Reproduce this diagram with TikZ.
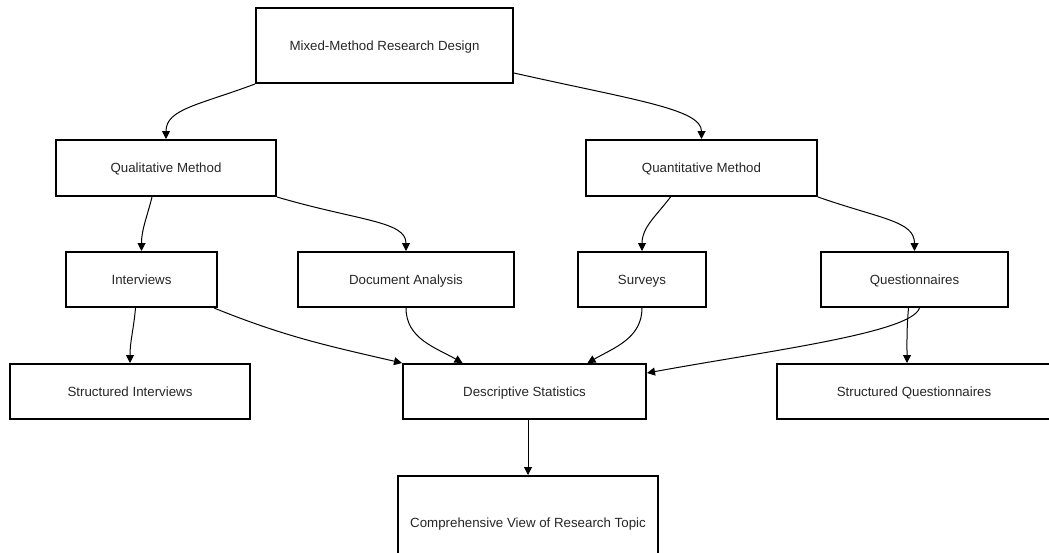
\documentclass[tikz,border=0pt]{standalone}
\usepackage{fontspec}
\setmainfont{Liberation Sans}
\usetikzlibrary{arrows.meta}

\begin{document}
\begin{tikzpicture}[x=1pt,y=-1pt,
stepbox/.style={draw,rectangle,line width=2pt,inner sep=0pt,text height=9.5pt,text depth=0pt,text=black!85,font=\fontsize{13.3}{16}\selectfont},
link/.style={line width=1pt,-{Triangle[length=8pt,width=8pt]}}]

\useasboundingbox (0,0) rectangle (1049,552);
\clip (0,0) rectangle (1049,552);

\draw (384.5,45.5) node[stepbox,minimum width=257pt,minimum height=75pt] (mixed) {Mixed-Method Research Design};
\draw (166,168) node[stepbox,minimum width=220pt,minimum height=56pt] (qual) {Qualitative Method};
\draw (701.5,168) node[stepbox,minimum width=231pt,minimum height=56pt] (quant) {Quantitative Method};
\draw (141.5,279.5) node[stepbox,minimum width=151pt,minimum height=55pt] (interv) {Interviews};
\draw (406,279.5) node[stepbox,minimum width=216pt,minimum height=55pt] (docan) {Document Analysis};
\draw (642,279.5) node[stepbox,minimum width=128pt,minimum height=55pt] (surv) {Surveys};
\draw (914.5,279.5) node[stepbox,minimum width=187pt,minimum height=55pt] (quest) {Questionnaires};
\draw (130,391.5) node[stepbox,minimum width=240pt,minimum height=55pt] (strint) {Structured Interviews};
\draw (524.5,391.5) node[stepbox,minimum width=243pt,minimum height=55pt] (descr) {Descriptive Statistics};
\draw (914,391.5) node[stepbox,minimum width=274pt,minimum height=55pt] (strq) {Structured Questionnaires};
\draw (528,523) node[stepbox,minimum width=260pt,minimum height=94pt] (comp) {Comprehensive View of Research Topic};

\draw[link] (mixed.south west) .. controls +(-56,21) and +(0,-30) .. (qual.north);
\draw[link] (mixed.-12) .. controls +(120,27) and +(0,-30) .. (quant.north);
\draw[link] ([xshift=-14pt]qual.south) to[out=256,in=90] (interv.north);
\draw[link] (qual.south east) .. controls +(82,24) and +(0,-30) .. (docan.north);
\draw[link] ([xshift=-31pt]quant.south) to[out=233,in=90] (surv.north);
\draw[link] (quant.south east) .. controls +(63,22) and +(0,-30) .. (quest.north);
\draw[link] ([xshift=-6pt]interv.south) to[out=265,in=90] (strint.north);
\draw[link] ([xshift=-4pt]interv.south east) to[out=-22,in=167] (descr.north west);
\draw[link] (docan.south) to[out=-90,in=150] ([xshift=-62pt]descr.north);
\draw[link] (surv.south) to[out=-90,in=30] ([xshift=63pt]descr.north);
\draw[link] ([xshift=5pt]quest.south) .. controls +(-8,25) and +(120,-22) .. ([yshift=-10pt]descr.north east);
\draw[link] ([xshift=-6pt]quest.south) to[out=265,in=90] ([xshift=-7pt]strq.north);
\draw[link] (comp.north |- descr.south) -- (comp.north);

\end{tikzpicture}
\end{document}
